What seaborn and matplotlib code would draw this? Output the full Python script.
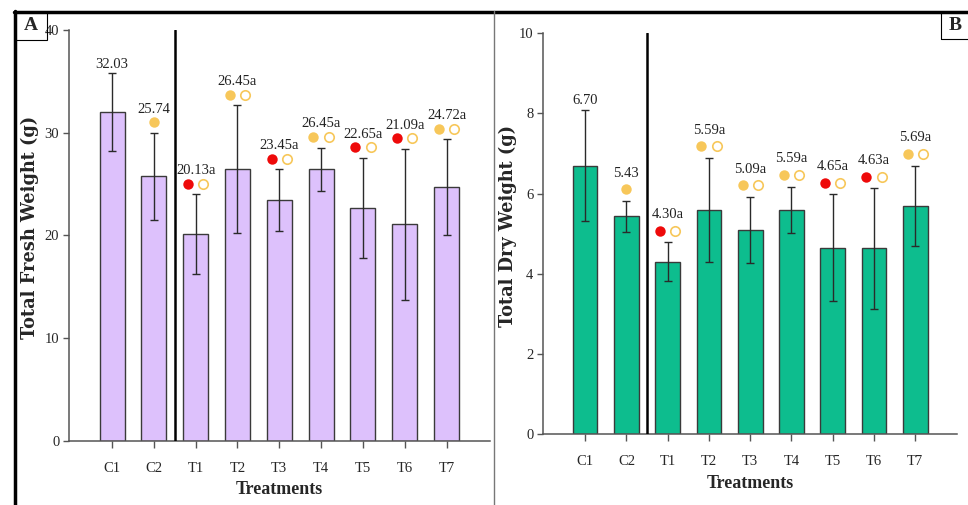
import matplotlib
matplotlib.use("Agg")
import matplotlib.pyplot as plt
import matplotlib.transforms as mtransforms
from matplotlib.font_manager import FontProperties
from matplotlib.lines import Line2D
from matplotlib.patches import Rectangle
import numpy as np
import pandas as pd
import seaborn as sns

# data
treatments = ["C1", "C2", "T1", "T2", "T3", "T4", "T5", "T6", "T7"]
fresh_mean = [32.03, 25.74, 20.13, 26.45, 23.45, 26.45, 22.65, 21.09, 24.72]
fresh_sd = [3.8, 4.25, 3.85, 6.2, 3.0, 2.1, 4.9, 7.35, 4.65]
dry_mean = [6.70, 5.43, 4.30, 5.59, 5.09, 5.59, 4.65, 4.63, 5.69]
dry_sd = [1.39, 0.38, 0.48, 1.3, 0.83, 0.58, 1.33, 1.5, 1.01]
letters = ["", "", "a", "a", "a", "a", "a", "a", "a"]
fresh_dot = [None, "gold", "red", "gold", "red", "gold", "red", "red", "gold"]
dry_dot = [None, "gold", "red", "gold", "gold", "gold", "red", "red", "gold"]
open_dot = [False, False, True, True, True, True, True, True, True]

GOLD = "#F7C75A"
RED = "#EE0A0A"
dot_colors = {"gold": GOLD, "red": RED}

sns.set_style("ticks")
plt.rcParams["font.family"] = ["Liberation Serif", "DejaVu Serif"]

fig = plt.figure(figsize=(9.68, 5.05), dpi=100)
W, H = 968, 505
ylab_font = FontProperties(family="DejaVu Serif", weight="bold", size=12.8)


def px_axes(left, right, top, bottom):
    return fig.add_axes([left / W, 1 - bottom / H, (right - left) / W, (bottom - top) / H])


def panel(ax, means, sds, dots, color, ymax, ystep, ylabel, xlim, mk_off, lab_off, c1_off):
    df = pd.DataFrame({"Treatment": treatments, "value": means})
    sns.barplot(data=df, x="Treatment", y="value", color=color, width=0.6,
                edgecolor="#3a3a3a", linewidth=1.0, saturation=1, errorbar=None, ax=ax)
    xs = np.arange(len(treatments))
    ax.errorbar(xs, means, yerr=sds, fmt="none", ecolor="#2a2a2a", elinewidth=1.0,
                capsize=3, capthick=1.0, zorder=3)
    ax.set_xlim(*xlim)
    ax.set_ylim(0, ymax)
    ax.set_yticks(np.arange(0, ymax + 0.01, ystep))
    ax.axvline(1.5, ymin=0, ymax=1, color="black", lw=1.8, zorder=4)

    for i, (m, s) in enumerate(zip(means, sds)):
        top = m + s
        label = f"{m:.2f}{letters[i]}"
        off = lab_off if dots[i] else c1_off
        ax.annotate(label, (i, top), xytext=(0, off), textcoords="offset points",
                    ha="center", va="center", fontsize=10.5, color="#222222")
        if dots[i]:
            dx = -5.5 if open_dot[i] else 0
            tr = mtransforms.offset_copy(ax.transData, fig=fig, x=dx, y=mk_off, units="points")
            ax.plot(i, top, "o", ms=7.5, color=dot_colors[dots[i]], mec="none",
                    transform=tr, clip_on=False, zorder=5)
        if open_dot[i]:
            tr = mtransforms.offset_copy(ax.transData, fig=fig, x=5.5, y=mk_off, units="points")
            ax.plot(i, top, "o", ms=6.8, mfc="white", mec=GOLD, mew=1.2,
                    transform=tr, clip_on=False, zorder=5)

    sns.despine(ax=ax)
    for sp in ["left", "bottom"]:
        ax.spines[sp].set_color("#555555")
        ax.spines[sp].set_linewidth(1.1)
    ax.tick_params(axis="y", length=4, width=1, color="#555555", pad=3, labelsize=10.5)
    ax.tick_params(axis="x", length=5, width=1, color="#555555", pad=10, labelsize=10.5)
    ax.set_xlabel("Treatments", fontsize=13, fontweight="bold", labelpad=5)
    ax.set_ylabel(ylabel, fontproperties=ylab_font)


ax_a = px_axes(69, 490, 30, 440.7)
panel(ax_a, fresh_mean, fresh_sd, fresh_dot, "#DDC1FC", 40, 10,
      "Total Fresh Weight (g)", (-1.03, 9.04), 7.5, 17, 6)
ax_a.yaxis.set_label_coords(-0.071, 0.52)

ax_b = px_axes(543, 957, 33.3, 434)
panel(ax_b, dry_mean, dry_sd, dry_dot, "#0DBD8E", 10, 2,
      "Total Dry Weight (g)", (-1.02, 9.01), 8.5, 20, 7)
ax_b.yaxis.set_label_coords(-0.062, 0.52)

# outer frame and panel tags
fig.add_artist(Line2D([14 / W, 1], [1 - 11.5 / H, 1 - 11.5 / H], color="black", lw=2.5))
fig.add_artist(Line2D([15 / W, 15 / W], [0, 1 - 11 / H], color="black", lw=2.5))
fig.add_artist(Line2D([494 / W, 494 / W], [0, 1 - 11 / H], color="#777777", lw=1))
fig.add_artist(Rectangle((15 / W, 1 - 40 / H), 32 / W, 28 / H, fill=False, ec="black", lw=0.8))
fig.add_artist(Rectangle((941 / W, 1 - 39 / H), 30 / W, 27 / H, fill=False, ec="black", lw=0.8))
fig.text(31 / W, 1 - 26 / H, "A", ha="center", va="center", fontsize=14, fontweight="bold")
fig.text(955 / W, 1 - 25.5 / H, "B", ha="center", va="center", fontsize=14, fontweight="bold")

fig.savefig("out.png", dpi=100)
